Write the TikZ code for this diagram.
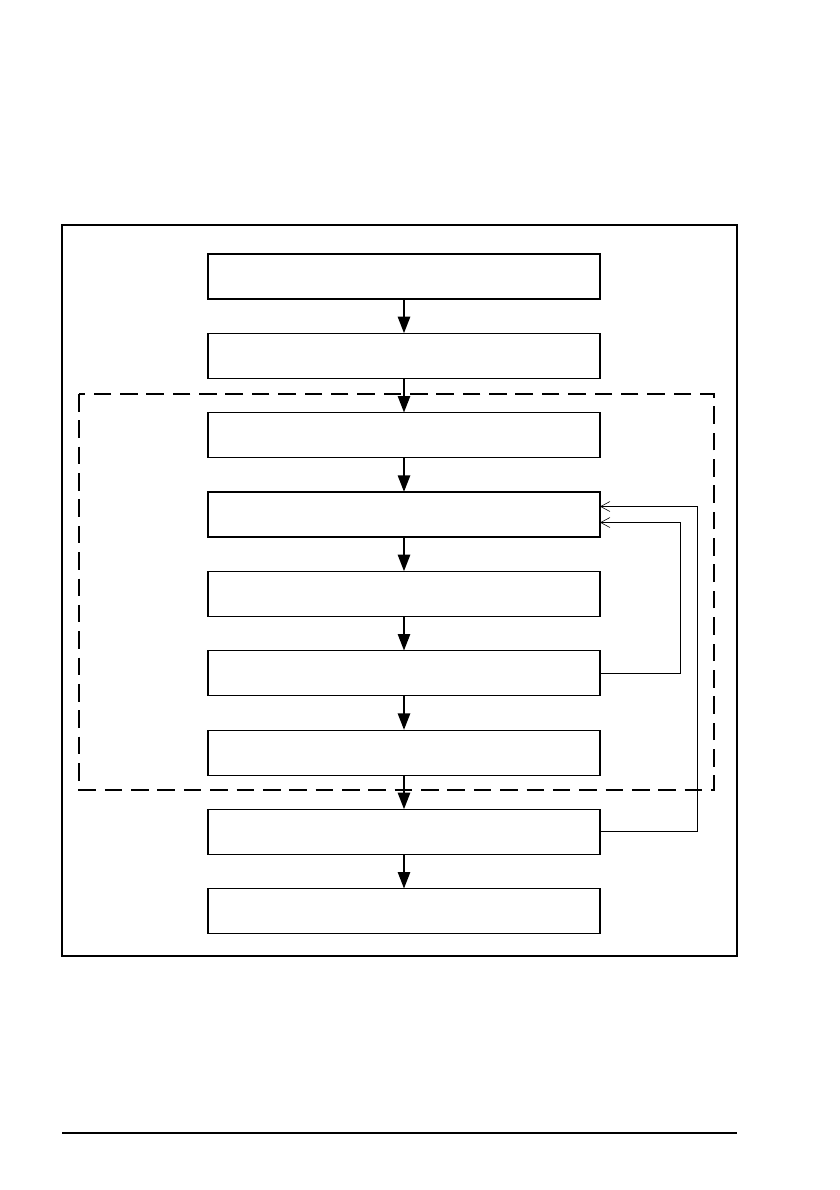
\documentclass[tikz,border=0pt]{standalone}
\usepackage{tikz}
\usetikzlibrary{positioning,arrows.meta,calc}

\begin{document}
\begin{tikzpicture}[x=0.03cm, y=-0.03cm, node distance=1.03cm]
  \tikzstyle{stepbox}=[draw,line width=0.9pt,minimum width=11.76cm,minimum height=1.35cm,inner sep=0pt,outer sep=0pt]
  \tikzstyle{flow}=[line width=2.3pt,-{Triangle[length=0.5cm,width=0.36cm]}]
  \tikzstyle{back}=[line width=0.8pt,-{Straight Barb[length=0.28cm,width=0.3cm,line width=0.5pt]}]
  \useasboundingbox (0,0) rectangle (840,1190);
  % frames
  \draw[line width=0.9pt] (62,225) rectangle (737,956);
  \draw[line width=0.9pt,dash pattern=on 15pt off 7.5pt] (79,394) rectangle (714,790);
  \draw[line width=0.9pt] (62,1133) -- (737,1133);
  % boxes
  \node[stepbox] (b1) at (404,276.5) {};
  \node[stepbox] (b2) [below=of b1] {};
  \node[stepbox] (b3) [below=of b2] {};
  \node[stepbox] (b4) [below=of b3] {};
  \node[stepbox] (b5) [below=of b4] {};
  \node[stepbox] (b6) [below=of b5] {};
  \node[stepbox] (b7) [below=of b6] {};
  \node[stepbox] (b8) [below=of b7] {};
  \node[stepbox] (b9) [below=of b8] {};
  \foreach \a/\b in {b1/b2,b2/b3,b3/b4,b4/b5,b5/b6,b6/b7,b7/b8,b8/b9}
    \draw[flow] (\a.south) -- (\b.north);
  % loops back
  \draw[back] (b6.east) -- ++(80,0) |- ($(b4.east)+(0,8)$);
  \draw[back] (b8.east) -- ++(97,0) |- ($(b4.east)+(0,-8)$);
\end{tikzpicture}
\end{document}
